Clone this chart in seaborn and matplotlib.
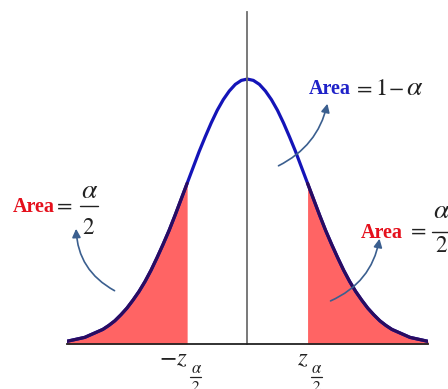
import matplotlib
matplotlib.use("Agg")
import matplotlib.pyplot as plt
import seaborn as sns
from matplotlib.patches import FancyArrowPatch
from matplotlib.lines import Line2D

# standard normal curve heights, every 0.1
z_vals = [-3.0, -2.9, -2.8, -2.7, -2.6, -2.5, -2.4, -2.3, -2.2, -2.1,
          -2.0, -1.9, -1.8, -1.7, -1.6, -1.5, -1.4, -1.3, -1.2, -1.1,
          -1.0, -0.9, -0.8, -0.7, -0.6, -0.5, -0.4, -0.3, -0.2, -0.1,
          0.0, 0.1, 0.2, 0.3, 0.4, 0.5, 0.6, 0.7, 0.8, 0.9,
          1.0, 1.1, 1.2, 1.3, 1.4, 1.5, 1.6, 1.7, 1.8, 1.9,
          2.0, 2.1, 2.2, 2.3, 2.4, 2.5, 2.6, 2.7, 2.8, 2.9, 3.0]
density = [0.004, 0.006, 0.008, 0.010, 0.014, 0.018, 0.022, 0.028, 0.035, 0.044,
           0.054, 0.066, 0.079, 0.094, 0.111, 0.130, 0.150, 0.171, 0.194, 0.218,
           0.242, 0.266, 0.290, 0.312, 0.333, 0.352, 0.368, 0.381, 0.391, 0.397,
           0.399, 0.397, 0.391, 0.381, 0.368, 0.352, 0.333, 0.312, 0.290, 0.266,
           0.242, 0.218, 0.194, 0.171, 0.150, 0.130, 0.111, 0.094, 0.079, 0.066,
           0.054, 0.044, 0.035, 0.028, 0.022, 0.018, 0.014, 0.010, 0.008, 0.006, 0.004]
crit = 1.0

x_ticks = [-3.0, -2.5, -2.0, -1.5, -1.0, -0.5, 0.0, 0.5, 1.0, 1.5, 2.0, 2.5, 3.0]
crit_ticks = [-crit, crit]
crit_labels = [r"$-z$", r"$z$"]
y_ticks = [0.1, 0.2, 0.3, 0.4, 0.5]

W, H = 448, 389


def fp(x, y):
    # pixel position (from top-left) -> figure fraction
    return (x / W, 1 - y / H)


sns.set_theme(style="white")
plt.rcParams["mathtext.fontset"] = "stix"
plt.rcParams["font.family"] = ["Liberation Serif", "DejaVu Serif"]

fig = plt.figure(figsize=(W / 100, H / 100), dpi=100)
ax = fig.add_axes([66.7 / W, 45 / H, 361.3 / W, 332 / H])

left_x = [z for z in z_vals if z <= -crit]
left_y = [d for z, d in zip(z_vals, density) if z <= -crit]
right_x = [z for z in z_vals if z >= crit]
right_y = [d for z, d in zip(z_vals, density) if z >= crit]

ax.fill_between(left_x, 0, left_y, color="#ff6464", lw=0)
ax.fill_between(right_x, 0, right_y, color="#ff6464", lw=0)

sns.lineplot(x=z_vals, y=density, ax=ax, color="#1414b8", lw=2.3, sort=False)
sns.lineplot(x=left_x, y=left_y, ax=ax, color="#2a0c60", lw=2.3)
sns.lineplot(x=right_x, y=right_y, ax=ax, color="#2a0c60", lw=2.3)

ax.set_xlim(-3, 3)
ax.set_ylim(0, 0.5)
ax.set_facecolor("none")

for s in ["top", "right"]:
    ax.spines[s].set_visible(False)
ax.spines["left"].set_position(("data", 0))
ax.spines["left"].set_color("#6e6e6e")
ax.spines["left"].set_linewidth(1.3)
ax.spines["bottom"].set_color("#222222")
ax.spines["bottom"].set_linewidth(1.3)

ax.set_xticks(x_ticks)
ax.set_xticklabels([])
ax.set_yticks(y_ticks)
ax.set_yticklabels([])
ax.tick_params(axis="x", direction="out", length=3, width=0.8, color="#777777")
ax.tick_params(axis="y", direction="out", length=3, width=0.8, color="#999999")

red = "#e5101c"
blue = "#1f22c8"
ink = "#222222"
arrow_c = "#3b5f8f"
area = dict(fontweight="bold", fontsize=14.5, va="baseline", ha="right")
stix = dict(family="STIXGeneral", color=ink, va="baseline")


def hbar(x0, x1, y, lw=1.0):
    fig.add_artist(Line2D([x0 / W, x1 / W], [1 - y / H] * 2,
                          transform=fig.transFigure, color=ink, lw=lw))


# critical value labels under the axis: z with a stacked alpha/2 subscript
for t, lab in zip(crit_ticks, crit_labels):
    tx = ax.transData.transform((t, 0))[0]
    fig.text(*fp(tx + 0.5, 365), lab, fontsize=18, color=ink, ha="right", va="baseline")
    fig.text(*fp(tx + 8.5, 373), "\u03b1", style="italic", fontsize=12, ha="center", **stix)
    fig.text(*fp(tx + 8.5, 391), "2", fontsize=11, ha="center", **stix)
    hbar(tx + 3, tx + 14, 377, lw=0.9)


def frac(cx, y_num, y_bar, y_den, half):
    # alpha over 2, drawn piece by piece so it can be large
    fig.text(*fp(cx, y_num), "\u03b1", style="italic", fontsize=20, ha="center", **stix)
    fig.text(*fp(cx, y_den), "2", fontsize=16.5, ha="center", **stix)
    hbar(cx - half, cx + half, y_bar)


# left tail label
fig.text(*fp(55, 212), "Area", color=red, **area)
fig.text(*fp(57, 212), "=", fontsize=16, ha="left", **stix)
frac(88.5, 198, 206, 234, 9)

# middle label
fig.text(*fp(351, 94), "Area", color=blue, **area)
for cx, ch, size in [(365, "=", 16), (381.5, "1", 17.5), (396.5, "\u2212", 16)]:
    fig.text(*fp(cx, 95), ch, fontsize=size, ha="center", **stix)
fig.text(*fp(413.5, 95), "\u03b1", style="italic", fontsize=20, ha="center", **stix)

# right tail label
fig.text(*fp(403, 238), "Area", color=red, **area)
fig.text(*fp(411, 237), "=", fontsize=16, ha="left", **stix)
frac(441, 218, 232, 252, 9)

arrows = [((117, 292), (76, 226), -0.3),
          ((276, 167), (328, 101), 0.25),
          ((328, 302), (380, 236), 0.28)]
for a, b, r in arrows:
    p = FancyArrowPatch(fp(*a), fp(*b), transform=fig.transFigure,
                        connectionstyle=f"arc3,rad={r}",
                        arrowstyle="-|>,head_length=0.5,head_width=0.25",
                        mutation_scale=10, color=arrow_c, lw=1.2)
    fig.add_artist(p)

fig.savefig("out.png", dpi=100)
